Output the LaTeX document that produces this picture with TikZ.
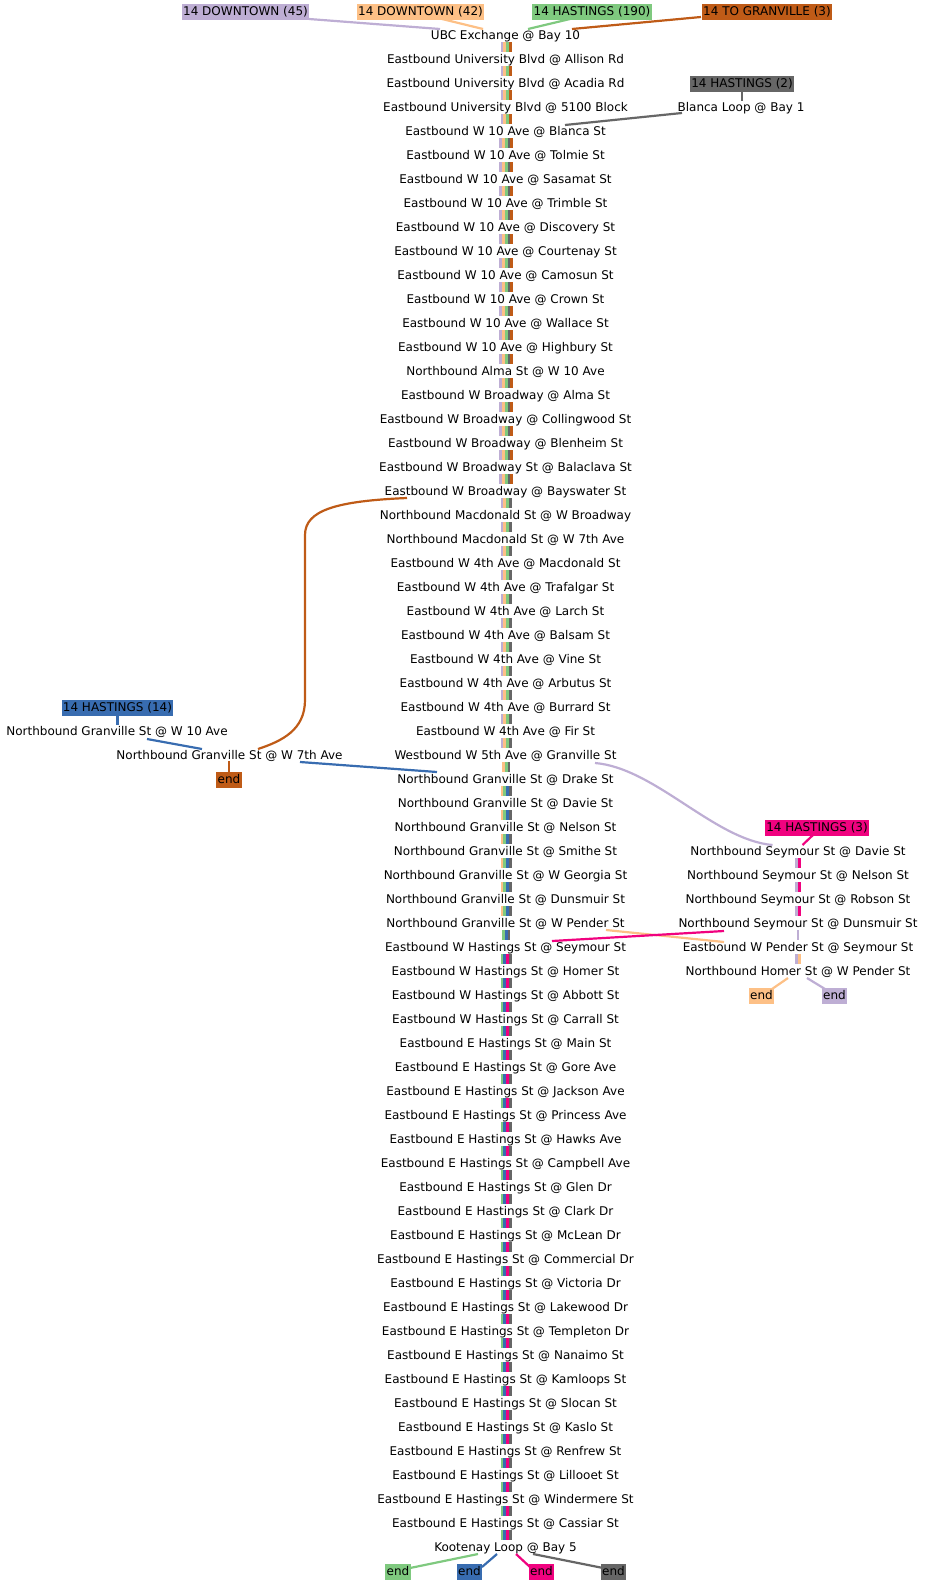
\documentclass[tikz,border=0pt]{standalone}
\usepackage{fontspec}
\setmainfont{DejaVu Sans}
\definecolor{cP}{HTML}{BEAED4}
\definecolor{cO}{HTML}{FDC086}
\definecolor{cG}{HTML}{7FC97F}
\definecolor{cY}{HTML}{666666}
\definecolor{cBr}{HTML}{BF5B17}
\definecolor{cBl}{HTML}{386CB0}
\definecolor{cPk}{HTML}{F0027F}
\newcommand\stripeset[3]{%
  \foreach \cc [count=\k] in {#3}{\xdef\stripen{\k}}%
  \foreach \cc [count=\k] in {#3}{%
    \fill[\cc] ({#1+(\k-1-\stripen/2)*2.8},{47+24*(#2-1)-5}) rectangle ++(2.8,10);}}
\begin{document}
\begin{tikzpicture}[x=1pt,y=-1pt,
  stop/.style={inner sep=0pt, font=\fontsize{12}{14}\selectfont, text height=10.5pt, text depth=1pt},
  route/.style={fill=#1, inner xsep=1.3pt, inner ysep=1.8pt, font=\fontsize{12}{14}\selectfont, text height=9pt, text depth=2.5pt},
  conn/.style={line width=2.2pt, draw=#1}]
\useasboundingbox (0,0) rectangle (926,1584);
% trunk stops
\foreach \t [count=\i] in {UBC Exchange @ Bay 10,
Eastbound University Blvd @ Allison Rd,
Eastbound University Blvd @ Acadia Rd,
Eastbound University Blvd @ 5100 Block,
Eastbound W 10 Ave @ Blanca St,
Eastbound W 10 Ave @ Tolmie St,
Eastbound W 10 Ave @ Sasamat St,
Eastbound W 10 Ave @ Trimble St,
Eastbound W 10 Ave @ Discovery St,
Eastbound W 10 Ave @ Courtenay St,
Eastbound W 10 Ave @ Camosun St,
Eastbound W 10 Ave @ Crown St,
Eastbound W 10 Ave @ Wallace St,
Eastbound W 10 Ave @ Highbury St,
Northbound Alma St @ W 10 Ave,
Eastbound W Broadway @ Alma St,
Eastbound W Broadway @ Collingwood St,
Eastbound W Broadway @ Blenheim St,
Eastbound W Broadway St @ Balaclava St,
Eastbound W Broadway @ Bayswater St,
Northbound Macdonald St @ W Broadway,
Northbound Macdonald St @ W 7th Ave,
Eastbound W 4th Ave @ Macdonald St,
Eastbound W 4th Ave @ Trafalgar St,
Eastbound W 4th Ave @ Larch St,
Eastbound W 4th Ave @ Balsam St,
Eastbound W 4th Ave @ Vine St,
Eastbound W 4th Ave @ Arbutus St,
Eastbound W 4th Ave @ Burrard St,
Eastbound W 4th Ave @ Fir St,
Westbound W 5th Ave @ Granville St,
Northbound Granville St @ Drake St,
Northbound Granville St @ Davie St,
Northbound Granville St @ Nelson St,
Northbound Granville St @ Smithe St,
Northbound Granville St @ W Georgia St,
Northbound Granville St @ Dunsmuir St,
Northbound Granville St @ W Pender St,
Eastbound W Hastings St @ Seymour St,
Eastbound W Hastings St @ Homer St,
Eastbound W Hastings St @ Abbott St,
Eastbound W Hastings St @ Carrall St,
Eastbound E Hastings St @ Main St,
Eastbound E Hastings St @ Gore Ave,
Eastbound E Hastings St @ Jackson Ave,
Eastbound E Hastings St @ Princess Ave,
Eastbound E Hastings St @ Hawks Ave,
Eastbound E Hastings St @ Campbell Ave,
Eastbound E Hastings St @ Glen Dr,
Eastbound E Hastings St @ Clark Dr,
Eastbound E Hastings St @ McLean Dr,
Eastbound E Hastings St @ Commercial Dr,
Eastbound E Hastings St @ Victoria Dr,
Eastbound E Hastings St @ Lakewood Dr,
Eastbound E Hastings St @ Templeton Dr,
Eastbound E Hastings St @ Nanaimo St,
Eastbound E Hastings St @ Kamloops St,
Eastbound E Hastings St @ Slocan St,
Eastbound E Hastings St @ Kaslo St,
Eastbound E Hastings St @ Renfrew St,
Eastbound E Hastings St @ Lillooet St,
Eastbound E Hastings St @ Windermere St,
Eastbound E Hastings St @ Cassiar St,
Kootenay Loop @ Bay 5}
  {\node[stop] (s\i) at (505.5,{35+24*(\i-1)}) {\t};}
% right column stops
\foreach \t [count=\j from 35] in {Northbound Seymour St @ Davie St,
Northbound Seymour St @ Nelson St,
Northbound Seymour St @ Robson St,
Northbound Seymour St @ Dunsmuir St,
Eastbound W Pender St @ Seymour St,
Northbound Homer St @ W Pender St}
  {\node[stop] (r\j) at (798,{35+24*(\j-1)}) {\t};}
% other stops
\node[stop] (blanca) at (741,107) {Blanca Loop @ Bay 1};
\node[stop] (g10) at (117,731) {Northbound Granville St @ W 10 Ave};
\node[stop] (g7) at (229.5,755) {Northbound Granville St @ W 7th Ave};
% route labels
\node[route=cP] (t45) at (245.5,12) {14 DOWNTOWN (45)};
\node[route=cO] (t42) at (420.5,12) {14 DOWNTOWN (42)};
\node[route=cG] (t190) at (592,12) {14 HASTINGS (190)};
\node[route=cBr] (tg3) at (767,12) {14 TO GRANVILLE (3)};
\node[route=cY] (b2) at (742,84) {14 HASTINGS (2)};
\node[route=cBl] (b14) at (117.5,708) {14 HASTINGS (14)};
\node[route=cPk] (b3) at (817,828) {14 HASTINGS (3)};
% end labels
\node[route=cBr] (endBr) at (229,780) {end};
\node[route=cO] (endO) at (761.5,996) {end};
\node[route=cP] (endP) at (834.5,996) {end};
\node[route=cG] (eG) at (398,1572) {end};
\node[route=cBl] (eBl) at (469.5,1572) {end};
\node[route=cPk] (ePk) at (541.5,1572) {end};
\node[route=cY] (eGr) at (613.5,1572) {end};
% trunk stripes
\foreach \i in {1,...,4}{\stripeset{506.2}{\i}{cP,cO,cG,cBr}}
\foreach \i in {5,...,19}{\stripeset{506.2}{\i}{cP,cO,cG,cY,cBr}}
\foreach \i in {20,...,30}{\stripeset{506.2}{\i}{cP,cO,cG,cY}}
\stripeset{506.2}{31}{cO,cG,cY}
\foreach \i in {32,...,37}{\stripeset{506.2}{\i}{cO,cG,cBl,cY}}
\stripeset{506.2}{38}{cG,cBl,cY}
\foreach \i in {39,...,63}{\stripeset{506.2}{\i}{cG,cBl,cPk,cY}}
% right stripes
\foreach \i in {35,36,37}{\stripeset{798}{\i}{cP,cPk}}
\stripeset{798}{38}{cP}
\stripeset{798}{39}{cP,cO}
% connectors
\draw[conn=cP] ([shift={(63.5,7)}]t45.center) -- ([shift={(-65.5,-6)}]s1.center);
\draw[conn=cO] ([shift={(21.5,7)}]t42.center) -- ([shift={(-22.5,-6)}]s1.center);
\draw[conn=cG] ([shift={(-22,7)}]t190.center) -- ([shift={(22.5,-6)}]s1.center);
\draw[conn=cBr] ([shift={(-66,5)}]tg3.center) -- ([shift={(66.5,-6)}]s1.center);
\draw[conn=cY] (b2.south) -- (b2.south |- blanca.north);
\draw[conn=cY] ([shift={(-59,6)}]blanca.center) -- ([shift={(59.5,-6)}]s5.center);
\draw[conn=cBl] (b14.south) -- (b14.south |- g10.north);
\draw[conn=cBl] ([shift={(30,8)}]g10.center) -- ([shift={(-27.5,-6)}]g7.center);
\draw[conn=cBl] ([shift={(70.5,7)}]g7.center) -- ([shift={(-68.5,-7)}]s32.center);
\draw[conn=cBr] (g7.south -| endBr.north) -- (endBr.north);
\draw[conn=cBr] ([shift={(-98.5,7)}]s20.center) .. controls +(-70,3) and +(0,-25) .. ++(-102,37)
   -- ++(0,165) .. controls +(0,30) and +(24,-8) .. ([shift={(28.5,-6)}]g7.center);
\draw[conn=cP] ([shift={(89.5,8)}]s31.center) .. controls +(60,5) and +(-58,-5) .. ([shift={(-25.5,-6)}]r35.center);
\draw[conn=cPk] ([shift={(-4,7)}]b3.center) -- ([shift={(4.5,-6)}]r35.center);
\draw[conn=cO] ([shift={(100.5,7)}]s38.center) -- ([shift={(-74,-5)}]r39.center);
\draw[conn=cPk] ([shift={(-74,8)}]r38.center) -- ([shift={(46.5,-6)}]s39.center);
\draw[conn=cO] ([shift={(-10,7)}]r40.center) -- ([shift={(10.5,-7)}]endO.center);
\draw[conn=cP] ([shift={(9,7)}]r40.center) -- ([shift={(-9.5,-7)}]endP.center);
\draw[conn=cG] ([shift={(-27.5,7)}]s64.center) -- ([shift={(12,-4)}]eG.center);
\draw[conn=cBl] ([shift={(-8.5,7)}]s64.center) -- ([shift={(12.5,-5)}]eBl.center);
\draw[conn=cPk] ([shift={(10.5,7)}]s64.center) -- ([shift={(-11.5,-5)}]ePk.center);
\draw[conn=cY] ([shift={(27.5,7)}]s64.center) -- ([shift={(-10.5,-4)}]eGr.center);
\end{tikzpicture}
\end{document}
